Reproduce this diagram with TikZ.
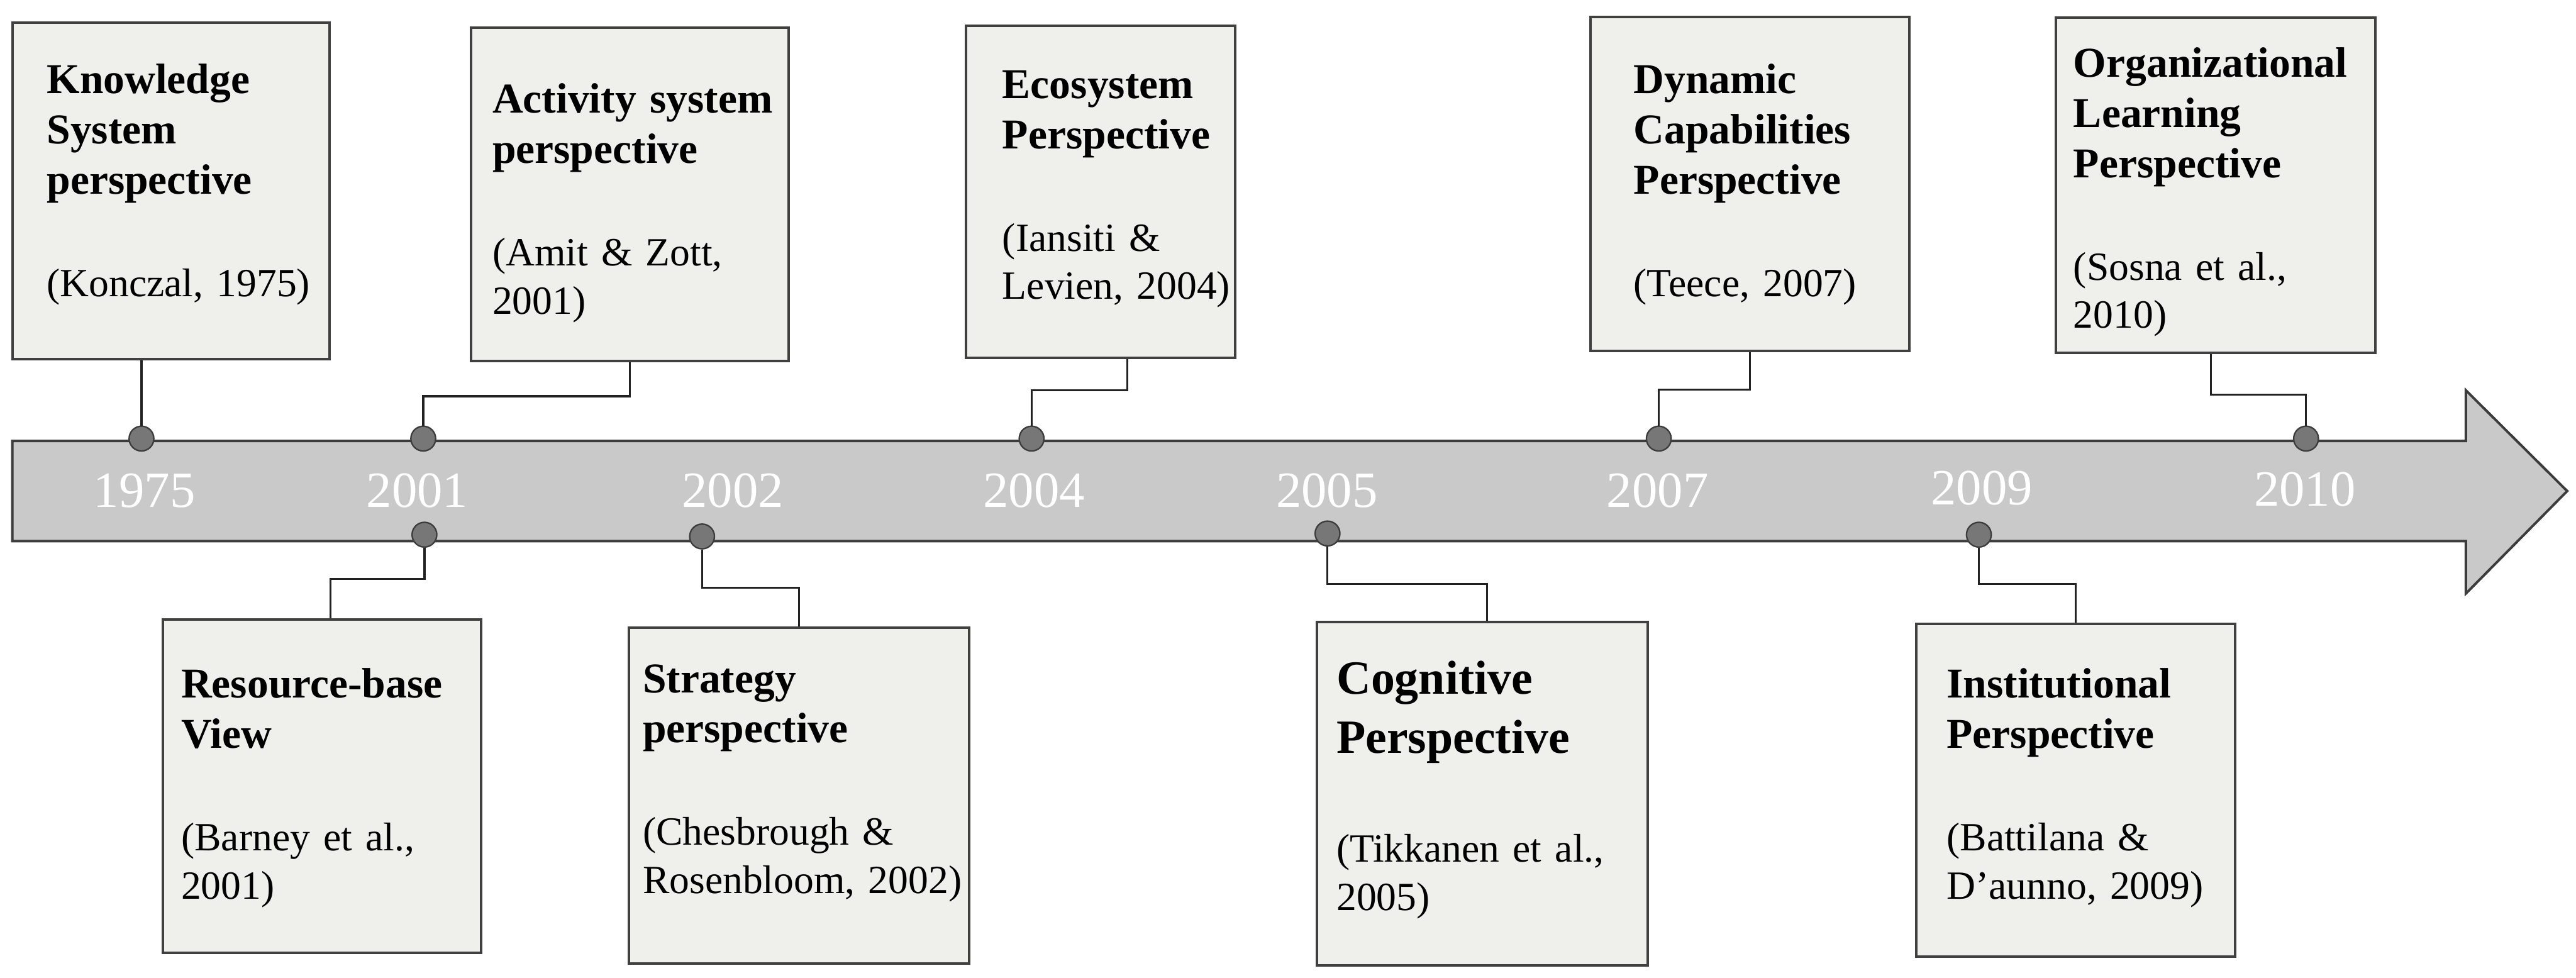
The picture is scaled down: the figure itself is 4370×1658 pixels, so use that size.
\documentclass[tikz,border=0pt]{standalone}
\usepackage{fontspec}
\setmainfont{Liberation Serif}
\usepackage{tikz}

\definecolor{boxfill}{HTML}{EFEFEC}
\definecolor{boxline}{HTML}{404040}
\definecolor{barfill}{HTML}{C9C9C9}
\definecolor{barline}{HTML}{3C3C3C}
\definecolor{dotfill}{HTML}{777777}
\definecolor{linkline}{HTML}{222222}

\newcommand{\titlefont}{\fontsize{20.5}{24.2}\selectfont\bfseries}
\newcommand{\bigtitlefont}{\fontsize{23}{28.4}\selectfont\bfseries}

\begin{document}
\begin{tikzpicture}[
    x=0.01cm, y=-0.01cm,
    perspbox/.style={rectangle, draw=boxline, fill=boxfill, line width=1.2pt, inner sep=0pt},
    persptext/.style={anchor=base west, inner sep=0pt, text width=6cm, align=left, font=\fontsize{19.3}{23.3}\selectfont},
    year/.style={anchor=base, inner sep=0pt, text=white, font=\fontsize{24.5}{28}\selectfont},
    dot/.style={circle, draw=barline, fill=dotfill, line width=0.7pt, minimum size=0.42cm, inner sep=0pt},
    link/.style={draw=linkline, line width=1pt}
]
\useasboundingbox (0,0) rectangle (4370,1658);

% Timeline arrow
\draw[draw=barline, fill=barfill, line width=1.2pt, line join=miter]
    (21,748) -- (4183,748) -- (4183,662) -- (4355,833) -- (4183,1007) -- (4183,918) -- (21,918) -- cycle;

% Years
\node[year] (y1975) at (245,860) {1975};
\node[year] (y2001) at (708,860) {2001};
\node[year] (y2002) at (1243,860) {2002};
\node[year] (y2004) at (1754,860) {2004};
\node[year] (y2005) at (2251,860) {2005};
\node[year] (y2007) at (2812,860) {2007};
\node[year] (y2009) at (3362,856) {2009};
\node[year] (y2010) at (3910,858) {2010};

% Dots above
\node[dot] (d1975) at (240,744) {};
\node[dot] (d2001a) at (718,744) {};
\node[dot] (d2004) at (1750,744) {};
\node[dot] (d2007) at (2814,744) {};
\node[dot] (d2010) at (3912,744) {};

% Dots below
\node[dot] (d2001b) at (720,907) {};
\node[dot] (d2002) at (1191,910) {};
\node[dot] (d2005) at (2252,905) {};
\node[dot] (d2009) at (3357,907) {};

% Upper boxes
\node[perspbox, minimum width=5.38cm, minimum height=5.70cm] (knowledge) at (290,324) {};
\node[persptext] (knowledgetext) at ([xshift=0.60cm, yshift=-1.22cm]knowledge.north west)
    {{\titlefont Knowledge\\System\\perspective\par}\vspace{0.92cm}(Konczal, 1975)};

\node[perspbox, minimum width=5.39cm, minimum height=5.65cm] (activity) at (1068.5,329.5) {};
\node[persptext] (activitytext) at ([xshift=0.38cm, yshift=-1.47cm]activity.north west)
    {{\titlefont Activity system\\perspective\par}\vspace{0.92cm}(Amit \& Zott,\\2001)};

\node[perspbox, minimum width=4.56cm, minimum height=5.63cm] (ecosystem) at (1867,325.5) {};
\node[persptext] (ecosystemtext) at ([xshift=0.63cm, yshift=-1.25cm]ecosystem.north west)
    {{\titlefont Ecosystem\\Perspective\par}\vspace{0.92cm}(Iansiti \&\\Levien, 2004)};

\node[perspbox, minimum width=5.41cm, minimum height=5.66cm] (dynamic) at (2968.5,312) {};
\node[persptext] (dynamictext) at ([xshift=0.75cm, yshift=-1.32cm]dynamic.north west)
    {{\titlefont Dynamic\\Capabilities\\Perspective\par}\vspace{0.92cm}(Teece, 2007)};

\node[perspbox, minimum width=5.41cm, minimum height=5.68cm] (organizational) at (3758.5,314) {};
\node[persptext] (organizationaltext) at ([xshift=0.31cm, yshift=-1.03cm]organizational.north west)
    {{\titlefont Organizational\\Learning\\Perspective\par}\vspace{0.92cm}(Sosna et al.,\\2010)};

% Lower boxes
\node[perspbox, minimum width=5.40cm, minimum height=5.65cm] (resource) at (546,1333.5) {};
\node[persptext] (resourcetext) at ([xshift=0.33cm, yshift=-1.35cm]resource.north west)
    {{\titlefont Resource-base\\View\par}\vspace{0.92cm}(Barney et al.,\\2001)};

\node[perspbox, minimum width=5.77cm, minimum height=5.69cm] (strategy) at (1355.5,1349.5) {};
\node[persptext] (strategytext) at ([xshift=0.25cm, yshift=-1.12cm]strategy.north west)
    {{\titlefont Strategy\\perspective\par}\vspace{0.92cm}(Chesbrough \&\\Rosenbloom, 2002)};

\node[perspbox, minimum width=5.61cm, minimum height=5.82cm] (cognitive) at (2514.5,1346) {};
\node[persptext] (cognitivetext) at ([xshift=0.35cm, yshift=-1.25cm]cognitive.north west)
    {{\bigtitlefont Cognitive\\Perspective\par}\vspace{1.03cm}(Tikkanen et al.,\\2005)};

\node[perspbox, minimum width=5.41cm, minimum height=5.64cm] (institutional) at (3521.5,1341) {};
\node[persptext] (institutionaltext) at ([xshift=0.53cm, yshift=-1.27cm]institutional.north west)
    {{\titlefont Institutional\\Perspective\par}\vspace{0.92cm}(Battilana \&\\D’aunno, 2009)};

% Connectors above
\draw[link] (knowledge.south -| d1975) -- (d1975.north);
\draw[link] (activity.south) -- ++(0,58) -| (d2001a.north);
\draw[link] ([xshift=0.45cm]ecosystem.south) -- ++(0,53) -| (d2004.north);
\draw[link] (dynamic.south) -- ++(0,64) -| (d2007.north);
\draw[link] ([xshift=-0.08cm]organizational.south) -- ++(0,69) -| (d2010.north);

% Connectors below
\draw[link] ([xshift=0.15cm]resource.north) -- ++(0,-67) -| (d2001b.south);
\draw[link] (strategy.north) -- ++(0,-66) -| (d2002.south);
\draw[link] ([xshift=0.08cm]cognitive.north) -- ++(0,-62) -| (d2005.south);
\draw[link] (institutional.north) -- ++(0,-66) -| (d2009.south);

\end{tikzpicture}
\end{document}
